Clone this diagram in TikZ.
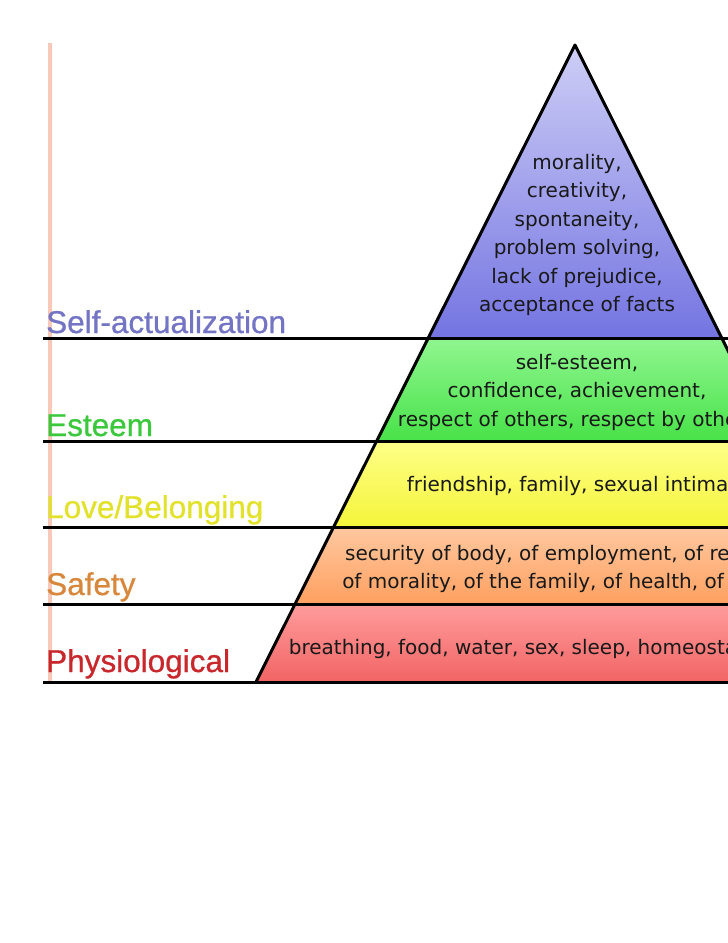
\documentclass[tikz,border=0pt]{standalone}
\usepackage{fontspec}
\setmainfont{DejaVu Sans}
\newfontfamily\labelfont[FakeBold=0.8]{Liberation Sans}
\usepackage{tikz}

\definecolor{selfblue}{HTML}{7474C4}
\definecolor{esteemgreen}{HTML}{3CC83C}
\definecolor{loveyellow}{HTML}{E2E22C}
\definecolor{safetyorange}{HTML}{D8883C}
\definecolor{physred}{HTML}{C8282C}
\definecolor{railpink}{HTML}{F8C8B8}

\tikzset{
  level label/.style={anchor=base west,inner sep=0pt,font=\labelfont\fontsize{31.5}{36}\selectfont},
  need text/.style={align=center,inner sep=0pt,text=black!90,font=\fontsize{20}{28.5}\selectfont},
  edge line/.style={black,line width=3pt,line join=round}
}

\begin{document}
\begin{tikzpicture}[x=1pt,y=-1pt]
  \useasboundingbox (0,0) rectangle (728,943);
  \begin{scope}
  \clip (0,0) rectangle (728,943);
  % rail on the left
  \draw[railpink,line width=4pt] (50,43) -- (50,682);
  % pyramid layers
  \shade[top color={rgb,255:red,206;green,206;blue,246},middle color={rgb,255:red,236;green,236;blue,252},bottom color={rgb,255:red,116;green,116;blue,226}]
    (575,45) -- (721.7,338) -- (428.3,338) -- cycle;
  \shade[top color={rgb,255:red,144;green,246;blue,144},bottom color={rgb,255:red,72;green,226;blue,72}]
    (428.3,338) -- (721.7,338) -- (773.3,441) -- (376.7,441) -- cycle;
  \shade[top color={rgb,255:red,255;green,255;blue,136},bottom color={rgb,255:red,244;green,244;blue,58}]
    (376.7,441) -- (773.3,441) -- (816.4,527) -- (333.6,527) -- cycle;
  \shade[top color={rgb,255:red,255;green,200;blue,160},bottom color={rgb,255:red,255;green,160;blue,96}]
    (333.6,527) -- (816.4,527) -- (854.9,604) -- (295.1,604) -- cycle;
  \shade[top color={rgb,255:red,255;green,156;blue,156},bottom color={rgb,255:red,242;green,100;blue,100}]
    (295.1,604) -- (854.9,604) -- (894,682) -- (256,682) -- cycle;
  % outline of the pyramid
  \draw[edge line] (256,682) -- (575,45) -- (894,682);
  \foreach \y in {338,441,527,604,682}
    \draw[edge line] (43,\y) -- (900,\y);
  % needs
  \node[need text] (selfneeds) at (577,235) {morality,\\creativity,\\spontaneity,\\problem solving,\\lack of prejudice,\\acceptance of facts};
  \node[need text] (esteemneeds) at (577,392) {self-esteem,\\confidence, achievement,\\respect of others, respect by others};
  \node[need text] (loveneeds) at (579,486) {friendship, family, sexual intimacy};
  \node[need text] (safetyneeds) at (579,569) {security of body, of employment, of resources,\\of morality, of the family, of health, of property};
  \node[need text] (physneeds) at (579,649) {breathing, food, water, sex, sleep, homeostasis, excretion};
  \end{scope}
  % level names
  \node[level label,text=selfblue] (self) at (46,333) {Self-actualization};
  \node[level label,text=esteemgreen] (esteem) at (46,436) {Esteem};
  \node[level label,text=loveyellow] (love) at (46,518) {Love/Belonging};
  \node[level label,text=safetyorange] (safety) at (46,595) {Safety};
  \node[level label,text=physred] (phys) at (46,672) {Physiological};
\end{tikzpicture}
\end{document}
